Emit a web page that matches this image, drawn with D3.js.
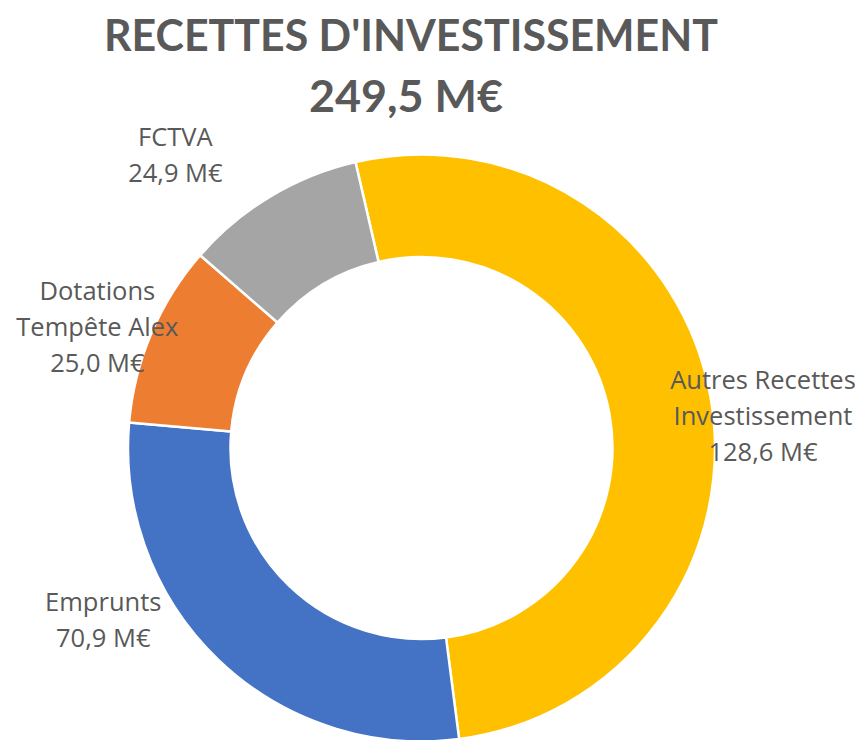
<!DOCTYPE html>
<html>
<head>
<meta charset="utf-8">
<script src="https://cdn.jsdelivr.net/npm/d3@7"></script>
<style>
  body { margin: 0; background: #ffffff; }
  svg { display: block; }
  text { font-family: Lato, "Open Sans", sans-serif; fill: #595959; }
  text.lbl { font-family: "Open Sans", Lato, sans-serif; }
</style>
</head>
<body>
<svg id="chart" width="863" height="740"></svg>
<script>
var titleLines = ["RECETTES D'INVESTISSEMENT", "249,5 M€"];
var categories = [["Autres Recettes", "Investissement"], ["Emprunts"], ["Dotations", "Tempête Alex"], ["FCTVA"]];
var values = [128.6, 70.9, 25.0, 24.9];
var valueLabels = ["128,6 M€", "70,9 M€", "25,0 M€", "24,9 M€"];
var colors = ["#ffc000", "#4472c4", "#ed7d31", "#a5a5a5"];

// manual label nudges (px), like dragged labels in the original
var labelNudge = [[-3, 30], [-76, -81], [-2, 16], [-66, 7]];

var svg = d3.select("#chart");
var cx = 421.5, cy = 448;
var outerR = 293.5, innerR = 191;
var labelR = 350;
var lineH = 36;

var deg = Math.PI / 180;
var pie = d3.pie()
    .sort(null)
    .value(function(d) { return d; })
    .startAngle(-13 * deg)
    .endAngle(347 * deg);

var arc = d3.arc().innerRadius(innerR).outerRadius(outerR);
var labelArc = d3.arc().innerRadius(labelR).outerRadius(labelR);

var arcs = pie(values);

var g = svg.append("g").attr("transform", "translate(" + cx + "," + cy + ")");

g.selectAll("path.slice")
  .data(arcs)
  .enter().append("path")
    .attr("class", "slice")
    .attr("d", arc)
    .attr("fill", function(d, i) { return colors[i]; })
    .attr("stroke", "#ffffff")
    .attr("stroke-width", 2.5)
    .attr("stroke-linejoin", "round");

// labels
arcs.forEach(function(d, i) {
    var c = labelArc.centroid(d);
    var x = c[0] + labelNudge[i][0];
    var y = c[1] + labelNudge[i][1];
    var lines = categories[i].concat([valueLabels[i]]);
    var firstBase = y - (lines.length - 1) * lineH / 2 + 9;
    var t = g.append("text")
        .attr("class", "lbl")
        .attr("text-anchor", "middle")
        .style("font-size", "25.5px");
    lines.forEach(function(s, k) {
        t.append("tspan")
          .attr("x", x)
          .attr("y", firstBase + k * lineH)
          .text(s);
    });
});

// title
var titleW = [614, 194];
var titleX = [411, 406];
var titleY = [51, 112];
titleLines.forEach(function(s, k) {
    svg.append("text")
      .attr("x", titleX[k])
      .attr("y", titleY[k])
      .attr("text-anchor", "middle")
      .attr("textLength", titleW[k])
      .attr("lengthAdjust", "spacingAndGlyphs")
      .style("font-size", "43px")
      .style("font-weight", "bold")
      .text(s);
});
</script>
</body>
</html>
